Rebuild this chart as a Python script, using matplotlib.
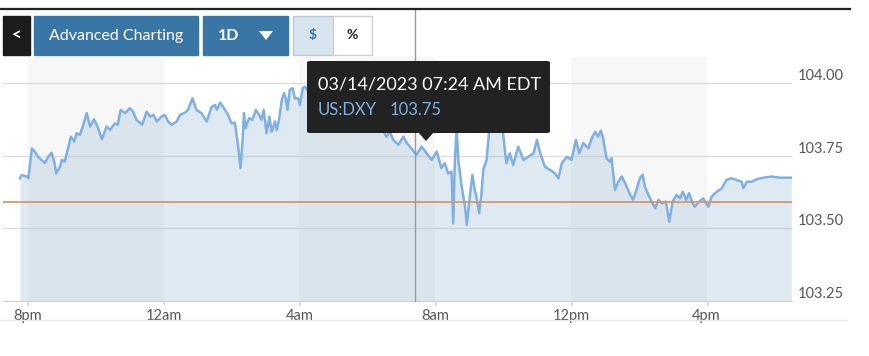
import matplotlib
matplotlib.use("Agg")
import numpy as np
from matplotlib import pyplot as plt
from matplotlib.patches import Rectangle, FancyBboxPatch, Polygon
from matplotlib.lines import Line2D

plt.rcParams['font.family'] = ['Lato', 'DejaVu Sans']

# minutes after 8pm (03/13) and US:DXY price
minutes = [-14, -11, -2, 1, 7, 12, 18, 24, 30, 36, 42, 47, 50, 57, 60, 65, 71, 76, 82, 86,
           92, 98, 104, 110, 117, 123, 131, 139, 145, 154, 159, 164, 172, 180, 186, 192, 202, 210, 216, 222,
           228, 236, 242, 248, 254, 263, 269, 278, 283, 291, 298, 307, 316, 325, 331, 334, 340, 345, 354, 360,
           366, 371, 376, 380, 382, 385, 391, 397, 403, 409, 413, 417, 422, 427, 431, 437, 440, 444, 449, 453,
           456, 459, 463, 468, 472, 478, 481, 486, 490, 499, 513, 525, 543, 561, 578, 596, 614, 628, 634, 640,
           646, 655, 664, 670, 678, 687, 696, 705, 714, 723, 731, 737, 743, 749, 752, 755, 758, 761, 767, 773,
           776, 782, 786, 790, 793, 798, 802, 805, 811, 816, 822, 829, 835, 840, 846, 852, 858, 867, 876, 885,
           894, 900, 905, 914, 923, 932, 938, 944, 953, 961, 969, 975, 982, 991, 997, 1003, 1008, 1013, 1017, 1023,
           1029, 1032, 1038, 1044, 1050, 1056, 1065, 1070, 1076, 1082, 1087, 1091, 1097, 1103, 1109, 1115, 1121, 1128, 1134, 1140,
           1147, 1153, 1158, 1164, 1169, 1174, 1179, 1187, 1194, 1203, 1209, 1218, 1227, 1235, 1244, 1253, 1262, 1265, 1271, 1280,
           1289, 1300, 1315, 1330, 1350]
prices = [103.672, 103.683, 103.678, 103.673, 103.775, 103.764, 103.746, 103.735, 103.725, 103.746,
          103.760, 103.725, 103.689, 103.712, 103.735, 103.729, 103.775, 103.815, 103.798, 103.827,
          103.821, 103.856, 103.896, 103.850, 103.875, 103.850, 103.806, 103.850, 103.838, 103.861,
          103.856, 103.907, 103.896, 103.913, 103.901, 103.873, 103.856, 103.901, 103.884, 103.890,
          103.867, 103.884, 103.890, 103.867, 103.856, 103.867, 103.890, 103.898, 103.907, 103.947,
          103.907, 103.896, 103.867, 103.918, 103.924, 103.907, 103.932, 103.918, 103.890, 103.861,
          103.863, 103.793, 103.707, 103.815, 103.896, 103.844, 103.879, 103.873, 103.907, 103.890,
          103.873, 103.907, 103.827, 103.884, 103.832, 103.867, 103.838, 103.873, 103.942, 103.965,
          103.947, 103.907, 103.976, 103.982, 103.947, 103.947, 103.924, 103.982, 103.987, 103.959,
          103.924, 103.942, 103.907, 103.928, 103.890, 103.900, 103.856, 103.838, 103.815, 103.832,
          103.804, 103.787, 103.815, 103.793, 103.775, 103.752, 103.781, 103.758, 103.735, 103.764,
          103.707, 103.724, 103.689, 103.695, 103.517, 103.735, 103.845, 103.735, 103.643, 103.574,
          103.512, 103.621, 103.684, 103.632, 103.609, 103.552, 103.621, 103.701, 103.735, 103.845,
          103.880, 103.866, 103.873, 103.828, 103.724, 103.758, 103.718, 103.781, 103.735, 103.746,
          103.758, 103.804, 103.764, 103.712, 103.701, 103.689, 103.672, 103.724, 103.746, 103.735,
          103.804, 103.758, 103.793, 103.775, 103.810, 103.832, 103.815, 103.836, 103.810, 103.741,
          103.729, 103.741, 103.632, 103.660, 103.678, 103.655, 103.615, 103.598, 103.632, 103.672,
          103.684, 103.643, 103.615, 103.592, 103.569, 103.598, 103.586, 103.592, 103.523, 103.592,
          103.615, 103.603, 103.626, 103.598, 103.621, 103.592, 103.574, 103.592, 103.603, 103.574,
          103.609, 103.626, 103.638, 103.666, 103.672, 103.666, 103.660, 103.638, 103.660, 103.660,
          103.669, 103.674, 103.678, 103.674, 103.674]

prev_close = 103.591
tick_minutes = [0, 240, 480, 720, 960, 1200]
tick_labels = ["8pm", "12am", "4am", "8am", "12pm", "4pm"]
price_ticks = [103.25, 103.50, 103.75, 104.00]
cursor_minute = 684
cursor_time = "03/14/2023 07:24 AM EDT"
cursor_symbol = "US:DXY"
cursor_value = 103.75

W, H = 870, 356
fig = plt.figure(figsize=(W / 100, H / 100), dpi=100)


def fx(x):
    return x / W


def fy(y):
    return 1 - y / H


ax = fig.add_axes([fx(3), fy(301), fx(792) - fx(3), fy(57) - fy(301)])
ax.set_xlim(-44, 1351)
ax.set_ylim(103.25, 104.089)

# alternating 4-hour shading
for start in tick_minutes[::2]:
    ax.axvspan(start, start + 240, color="#f7f7f7", lw=0, zorder=0)

for v in price_ticks[1:]:
    ax.axhline(v, color="#dcdcdc", lw=1, zorder=1)

ax.fill_between(minutes, prices, 103.25, color="#98b9d4", alpha=0.3, lw=0, zorder=2)
ax.plot(minutes, prices, color="#7fb0df", lw=1.8, zorder=3)
ax.axhline(prev_close, color="#d9956a", lw=1.3, zorder=4)
ax.axvline(cursor_minute, ymin=0, ymax=(301 - 10) / 244, color="#9a9a9a", lw=1,
           zorder=5, clip_on=False)

for s in ["top", "left", "right"]:
    ax.spines[s].set_visible(False)
ax.spines["bottom"].set_color("#d0d0d0")

ax.set_xticks(tick_minutes)
ax.set_xticklabels(tick_labels)
ax.tick_params(axis="x", length=3, color="#cccccc", labelsize=10.5, labelcolor="#555555", pad=3)

ax.yaxis.tick_right()
ax.set_yticks(price_ticks)
ax.set_yticklabels(["{:.2f}".format(v) for v in price_ticks])
ax.tick_params(axis="y", length=0, labelsize=10.5, labelcolor="#555555", pad=4)
for lab in ax.get_yticklabels():
    lab.set_verticalalignment("bottom")

# figure decorations: top rule and bottom rule
fig.add_artist(Line2D([fx(0), fx(850)], [fy(9), fy(9)], color="#222222", lw=1.6))
fig.add_artist(Line2D([fx(0), fx(847)], [fy(320), fy(320)], color="#e8e8e8", lw=1))


def button(x0, x1, face, edge=None):
    fig.add_artist(Rectangle((fx(x0), fy(55)), fx(x1) - fx(x0), fy(16) - fy(55),
                             transform=fig.transFigure, facecolor=face,
                             edgecolor=edge if edge else face, lw=1))


button(3, 30, "#1c1c1c")
fig.text(fx(16.5), fy(36), "<", color="white", fontsize=12, fontweight="bold", ha="center", va="center")
button(34, 198, "#3a76a5")
fig.text(fx(116), fy(36), "Advanced Charting", color="white", fontsize=11.5, ha="center", va="center")
button(203, 288, "#3a76a5")
fig.text(fx(229), fy(36), "1D", color="white", fontsize=11.5, fontweight="bold", ha="center", va="center")
fig.add_artist(Polygon([(fx(259), fy(31)), (fx(273), fy(31)), (fx(266), fy(40))],
                       transform=fig.transFigure, facecolor="white", edgecolor="none"))
button(293, 333, "#d8e4ee", "#b9c8d6")
fig.text(fx(313), fy(35), "$", color="#3a76a5", fontsize=10, fontweight="bold", ha="center", va="center")
button(333, 372, "white", "#d0d0d0")
fig.text(fx(352.5), fy(35), "%", color="#222222", fontsize=10, fontweight="bold", ha="center", va="center")

# tooltip
fig.add_artist(FancyBboxPatch((fx(307), fy(133)), fx(550) - fx(307), fy(61) - fy(133),
                              boxstyle="round,pad=0,rounding_size=0.004",
                              transform=fig.transFigure, facecolor="#222222", edgecolor="none",
                              zorder=10))
fig.add_artist(Polygon([(fx(418), fy(132)), (fx(434), fy(132)), (fx(426), fy(141))],
                       transform=fig.transFigure, facecolor="#222222", edgecolor="none", zorder=10))
fig.text(fx(318), fy(84), cursor_time, color="white", fontsize=13, ha="left", va="center", zorder=11)
fig.text(fx(318), fy(110), cursor_symbol, color="#7fb0e0", fontsize=12, ha="left", va="center", zorder=11)
fig.text(fx(390), fy(110), "{:.2f}".format(cursor_value), color="#7fb0e0", fontsize=12,
         ha="left", va="center", zorder=11)

fig.savefig("out.png", dpi=100)
